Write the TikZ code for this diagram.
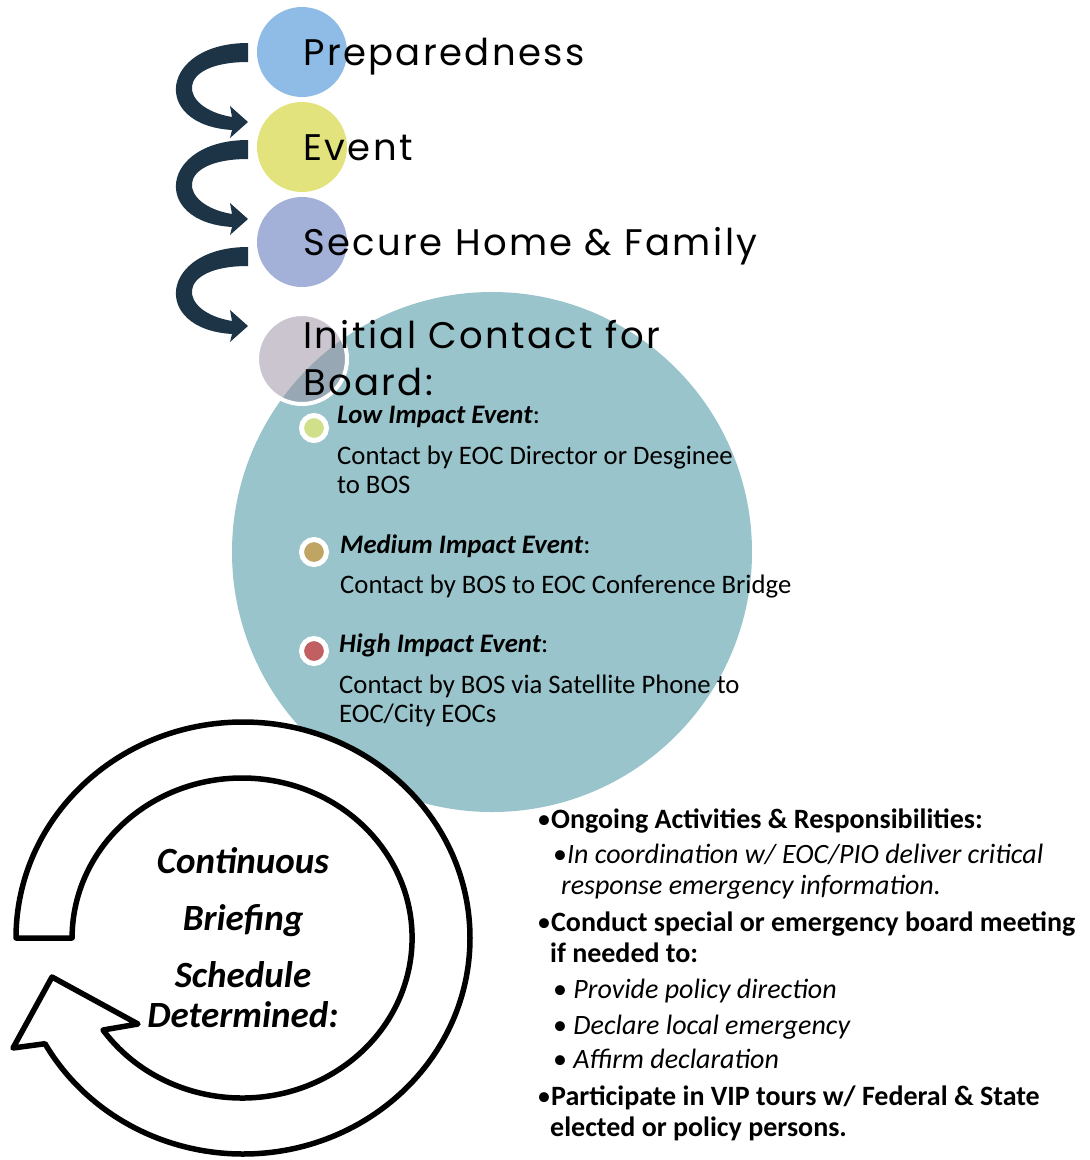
\documentclass[tikz,border=0pt]{standalone}
\usepackage{fontspec}
\setmainfont{Carlito}
\newfontfamily\gothic[LetterSpace=6.5]{Poppins}
\usetikzlibrary{arrows.meta}

\definecolor{prepblue}{RGB}{143,188,230}
\definecolor{eventyellow}{RGB}{227,227,125}
\definecolor{securelilac}{RGB}{163,177,216}
\definecolor{initgrey}{RGB}{151,139,159}
\definecolor{boardteal}{RGB}{153,196,203}
\definecolor{arrowdark}{RGB}{28,52,70}
\definecolor{dotgreen}{RGB}{208,224,138}
\definecolor{dottan}{RGB}{191,164,99}
\definecolor{dotred}{RGB}{194,95,98}

% list bullet in regular weight
\newcommand\listdot{{\mdseries\upshape •}}

\tikzset{
  stage/.style={circle, minimum size=90pt, inner sep=0pt},
  stagetext/.style={anchor=base west, inner sep=0pt, font=\gothic\fontsize{37}{44}\selectfont},
  dotbullet/.style={circle, draw=white, line width=5pt, minimum size=25pt, inner sep=0pt},
  boardtext/.style={anchor=base west, inner sep=0pt, font=\fontsize{26.7}{30}\selectfont},
  ongoingbold/.style={anchor=base west, inner sep=0pt, font=\bfseries\fontsize{28}{31}\selectfont},
  ongoingital/.style={anchor=base west, inner sep=0pt, font=\itshape\fontsize{28}{31}\selectfont},
  cycletext/.style={anchor=base, inner sep=0pt, font=\bfseries\itshape\fontsize{37}{40}\selectfont},
  turnarrow/.pic={
    \fill[arrowdark] (0,-9) .. controls (-88,-9) and (-98,73) .. (-16,78)
      -- (-18,86) -- (0,70) -- (-18,54) -- (-16,65)
      .. controls (-70,56) and (-74,10) .. (0,10) -- cycle;
  }
}

\begin{document}
\begin{tikzpicture}[x=1pt, y=-1pt]
\useasboundingbox (0,0) rectangle (1090,1160);

% large teal disc holding the contact levels
\node[circle, fill=boardteal, minimum size=520pt, inner sep=0pt] (board) at (492,552) {};

% stage discs
\node[stage, fill=prepblue] (prep) at (302,52) {};
\node[stage, fill=eventyellow] (event) at (302,147) {};
\node[stage, fill=securelilac] (secure) at (302,242) {};
\node[stage, fill=initgrey, fill opacity=0.5, draw=white, line width=4pt] (init) at (302,359) {};

% curved arrows between stages
\pic at (248,52) {turnarrow};
\pic at (248,149) {turnarrow};
\pic at (248,256) {turnarrow};

% stage titles
\node[stagetext] (preptxt) at (303,65) {Preparedness};
\node[stagetext] (eventtxt) at (303,160) {Event};
\node[stagetext] (securetxt) at (303,255) {Secure Home \& Family};
\node[stagetext] (inittxt) at (303,348) {Initial Contact for};
\node[stagetext] (inittxtb) at (303,395) {Board:};

% impact levels
\node[dotbullet, fill=dotgreen] (lowdot) at (314,428) {};
\node[boardtext] (low) at (337,423) {\textbf{\textit{Low Impact Event}}:};
\node[boardtext] (lowa) at (337,464) {Contact by EOC Director or Desginee};
\node[boardtext] (lowb) at (337,493) {to BOS};

\node[dotbullet, fill=dottan] (meddot) at (314,552) {};
\node[boardtext] (med) at (340,553) {\textbf{\textit{Medium Impact Event}}:};
\node[boardtext] (meda) at (340,593) {Contact by BOS to EOC Conference Bridge};

\node[dotbullet, fill=dotred] (highdot) at (314,651) {};
\node[boardtext] (high) at (339,652) {\textbf{\textit{High Impact Event}}:};
\node[boardtext] (higha) at (339,693) {Contact by BOS via Satellite Phone to};
\node[boardtext] (highb) at (339,722) {EOC/City EOCs};

% circular briefing arrow
\draw[line width=5.5pt, fill=white, line join=round]
  (16,938) arc[start angle=180, end angle=510.7, x radius=227, y radius=216]
  -- (13,1048) -- (52,977) -- (138,1024) -- (103,1030)
  arc[start angle=504.9, end angle=180, x radius=170, y radius=160]
  -- cycle;

\node[cycletext] (c1) at (243,873) {Continuous};
\node[cycletext] (c2) at (243,930) {Briefing};
\node[cycletext] (c3) at (243,987) {Schedule};
\node[cycletext] (c4) at (243,1027) {Determined:};

% ongoing activities list
\node[ongoingbold] (o1) at (537,828) {\listdot Ongoing Activities \& Responsibilities:};
\node[ongoingital] (o2) at (553,863) {\listdot In coordination w/ EOC/PIO deliver critical};
\node[ongoingital] (o3) at (561,894) {response emergency information.};
\node[ongoingbold] (o4) at (537,931) {\listdot Conduct special or emergency board meeting};
\node[ongoingbold] (o5) at (550,962) {if needed to:};
\node[ongoingital] (o6) at (553,998) {\listdot\ Provide policy direction};
\node[ongoingital] (o7) at (553,1034) {\listdot\ Declare local emergency};
\node[ongoingital] (o8) at (553,1068) {\listdot\ Affirm declaration};
\node[ongoingbold] (o9) at (537,1105) {\listdot Participate in VIP tours w/ Federal \& State};
\node[ongoingbold] (o10) at (550,1136) {elected or policy persons.};
\end{tikzpicture}
\end{document}
